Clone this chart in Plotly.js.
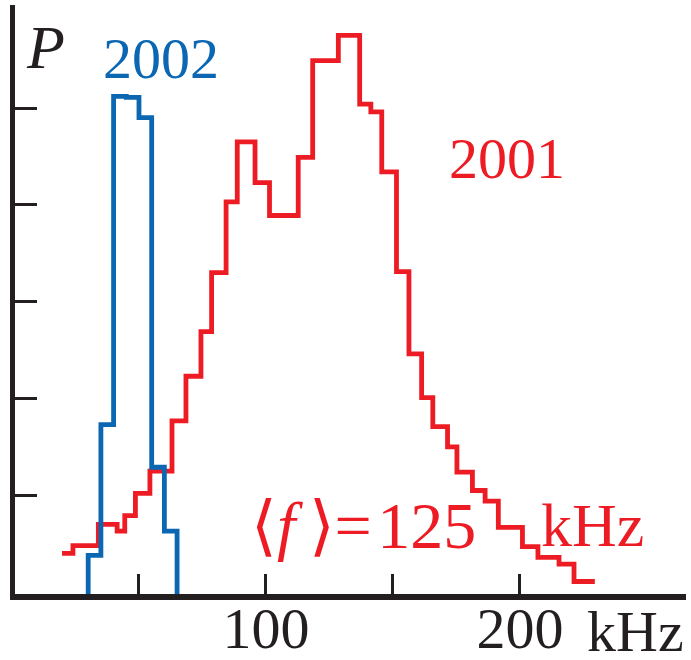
<!DOCTYPE html>
<html>
<head>
<meta charset="utf-8">
<script src="https://cdn.plot.ly/plotly-3.0.1.min.js"></script>
<style>html,body{margin:0;padding:0;background:#fff;}#chart{width:691px;height:660px;}</style>
</head>
<body>
<div id="chart"></div>
<script>
// 2001 histogram: left bin edges (kHz) and heights (arbitrary P units)
const red2001Edges = [19.7, 24.0, 34.0, 41.4, 44.4, 48.6, 54.3, 63.0, 68.5, 74.4, 78.6, 84.3, 88.7, 95.7, 101.4, 112.7, 118.4, 128.5, 136.9, 141.3, 145.6, 151.4, 156.3, 161.3, 165.7, 171.5, 175.2, 181.3, 186.3, 191.5, 201.0, 207.1, 215.4, 221.3, 229.5];
const red2001Values = [0.45, 0.53, 0.75, 0.68, 0.84, 1.07, 1.30, 1.82, 2.28, 2.74, 3.35, 4.08, 4.70, 4.28, 3.94, 4.54, 5.54, 5.80, 5.09, 5.01, 4.39, 3.36, 2.51, 2.06, 1.76, 1.55, 1.29, 1.10, 0.99, 0.72, 0.52, 0.41, 0.34, 0.16, 0.16];

// 2002 histogram
const blue2002Edges = [30, 30, 35, 40, 45, 50, 55, 60, 65, 65];
const blue2002Values = [0, 0.43, 1.78, 5.17, 5.16, 4.95, 1.34, 0.68, 0.68, 0];

const xTickVals = [50, 100, 150, 200];
const xTickText = ['', '100', '', '200'];
const yTickVals = [1.05, 2.05, 3.05, 4.05, 5.05];

const RED = '#ED1C24';
const BLUE = '#0B67B2';
const INK = '#231F20';
const SERIF = '"Liberation Serif", "Times New Roman", serif';

const traces = [
  {x: red2001Edges, y: red2001Values, mode: 'lines', line: {shape: 'hv', color: RED, width: 4.8}, hoverinfo: 'skip'},
  {x: blue2002Edges, y: blue2002Values, mode: 'lines', line: {shape: 'hv', color: BLUE, width: 4.8}, hoverinfo: 'skip'}
];

const layout = {
  width: 691, height: 660,
  margin: {l: 15, r: 5, t: 5, b: 66},
  paper_bgcolor: '#fff', plot_bgcolor: '#fff',
  showlegend: false,
  xaxis: {
    range: [1.18, 265.4], showgrid: false, zeroline: false,
    showline: true, linecolor: INK, linewidth: 6,
    ticks: 'inside', ticklen: 20, tickwidth: 3, tickcolor: INK,
    tickvals: xTickVals, ticktext: xTickText,
    ticklabelstandoff: -22,
    tickfont: {family: SERIF, size: 58, color: INK}
  },
  yaxis: {
    range: [0.031, 6.114], showgrid: false, zeroline: false,
    showline: true, linecolor: INK, linewidth: 5,
    ticks: 'inside', ticklen: 22, tickwidth: 3, tickcolor: INK,
    tickvals: yTickVals, showticklabels: false
  },
  annotations: [
    {x: 13.0, y: 5.68, xref: 'x', yref: 'y', text: '<i>P</i>', showarrow: false, font: {family: SERIF, size: 62, color: INK}},
    {x: 58.6, y: 5.56, xref: 'x', yref: 'y', text: '2002', showarrow: false, font: {family: SERIF, size: 58, color: BLUE}},
    {x: 194.9, y: 4.53, xref: 'x', yref: 'y', text: '2001', showarrow: false, font: {family: SERIF, size: 58, color: RED}},
    {x: 93.3, y: 0.74, xref: 'x', yref: 'y', xanchor: 'left', text: '⟨<i>f</i>\u2009⟩=\u200A125', showarrow: false, font: {family: SERIF, size: 66, color: RED}},
    {x: 207.7, y: 0.74, xref: 'x', yref: 'y', xanchor: 'left', text: 'kHz', showarrow: false, font: {family: SERIF, size: 62, color: RED}},
    {x: 225.6, y: -0.063, xref: 'x', yref: 'paper', xanchor: 'left', yanchor: 'middle', text: 'kHz', showarrow: false, font: {family: SERIF, size: 58, color: INK}}
  ]
};

Plotly.newPlot('chart', traces, layout, {staticPlot: true, displayModeBar: false});
</script>
</body>
</html>
